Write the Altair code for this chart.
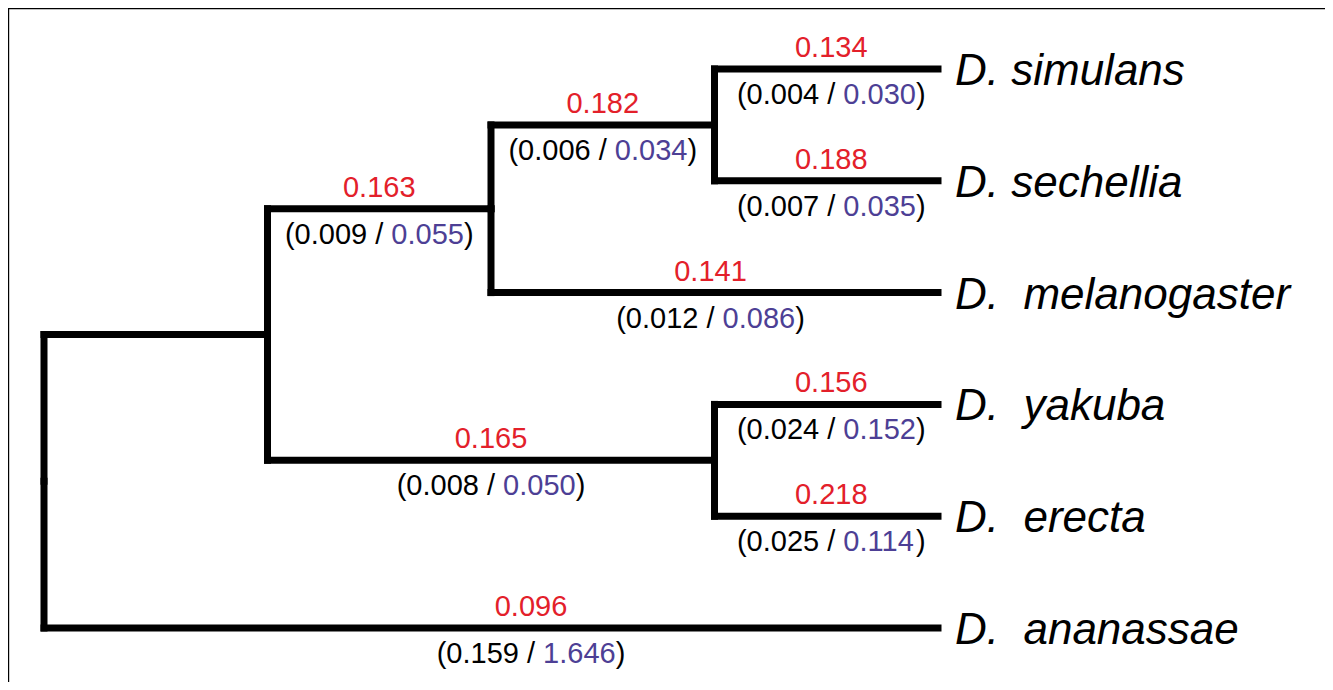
import altair as alt
import pandas as pd

# ---------------- data ----------------
# tree topology: each branch (child -> parent)
branch_child = ["simulans", "sechellia", "C", "melanogaster", "B",
                "yakuba", "erecta", "D", "A", "ananassae"]
branch_parent = ["C", "C", "B", "B", "A", "D", "D", "A", "root", "root"]
# branch values: dN/dS (red), dN (black), dS (purple)
omega = [0.134, 0.188, 0.182, 0.141, 0.163, 0.156, 0.218, 0.165, None, 0.096]
dn = [0.004, 0.007, 0.006, 0.012, 0.009, 0.024, 0.025, 0.008, None, 0.159]
ds = [0.030, 0.035, 0.034, 0.086, 0.055, 0.152, 0.114, 0.050, None, 1.646]
# leaves, top to bottom, with their display names
leaf_order = ["simulans", "sechellia", "melanogaster", "yakuba", "erecta", "ananassae"]
leaf_names = ["D. simulans", "D. sechellia", "D.\u00a0 melanogaster",
              "D.\u00a0 yakuba", "D.\u00a0 erecta", "D.\u00a0 ananassae"]

# ---------------- layout / style ----------------
W, H = 1317, 674
X_ROOT, X_STEP = 36, 223.5      # chart px of root, px per level
Y_TOP, Y_STEP = 61, 111.8       # chart px of first leaf, px per leaf
FONT = "Liberation Sans"
NUM_SIZE = 29
LEAF_SIZE = 44
RED = "#e3202a"
PURPLE = "#4d3f95"
LABEL_NUDGE_PX = {"simulans": 5, "sechellia": 5, "yakuba": 5, "erecta": 5,
                  "melanogaster": -4, "ananassae": 40}

# Arial/Liberation Sans advance widths (em)
ADV = {c: 0.556 for c in "0123456789"}
ADV.update({".": 0.278, " ": 0.278, "/": 0.278, "(": 0.333, ")": 0.333})


def text_w(s, size):
    return sum(ADV[c] for c in s) * size


children = {}
for c, p in zip(branch_child, branch_parent):
    children.setdefault(p, []).append(c)


def height(n):
    return 0 if n not in children else 1 + max(height(c) for c in children[n])


H_ROOT = height("root")
node_x = {}
node_y = {}
for i, l in enumerate(leaf_order):
    node_y[l] = i


def place(n):
    node_x[n] = H_ROOT - height(n)
    if n in children:
        for c in children[n]:
            place(c)
        node_y[n] = sum(node_y[c] for c in children[n]) / len(children[n])


place("root")

# segments
segs = []
for c, p in zip(branch_child, branch_parent):
    segs.append(dict(x=node_x[p], x2=node_x[c], y=node_y[c], y2=node_y[c]))
    segs.append(dict(x=node_x[p], x2=node_x[p], y=node_y[p], y2=node_y[c]))
seg_df = pd.DataFrame(segs)

# labels
red_rows, paren_rows = [], []
for c, p, om, a, b in zip(branch_child, branch_parent, omega, dn, ds):
    if om is None:
        continue
    mid = (node_x[p] + node_x[c]) / 2 + LABEL_NUDGE_PX.get(c, 0) / X_STEP
    y = node_y[c]
    red_rows.append(dict(x=mid, y=y, t=f"{om:.3f}"))
    left = f"({a:.3f} / "
    midt = f"{b:.3f}"
    total = text_w(left, NUM_SIZE) + text_w(midt, NUM_SIZE) + text_w(")", NUM_SIZE)
    x0 = mid - total / 2 / X_STEP
    x1 = x0 + text_w(left, NUM_SIZE) / X_STEP
    x2 = x1 + text_w(midt, NUM_SIZE) / X_STEP
    paren_rows.append(dict(x=x0, y=y, t=left.rstrip(), col="black"))
    paren_rows.append(dict(x=x1, y=y, t=midt, col=PURPLE))
    paren_rows.append(dict(x=x2, y=y, t=")", col="black"))
red_df = pd.DataFrame(red_rows)
paren_df = pd.DataFrame(paren_rows)
leaf_df = pd.DataFrame(dict(x=[node_x[l] for l in leaf_order],
                            y=[node_y[l] for l in leaf_order],
                            t=leaf_names))

xdom = [-X_ROOT / X_STEP, (W - X_ROOT) / X_STEP]
ydom = [-Y_TOP / Y_STEP, (H - Y_TOP) / Y_STEP]
xs = alt.Scale(domain=xdom, nice=False, zero=False)
ys = alt.Scale(domain=ydom, nice=False, zero=False, reverse=True)
X = lambda f="x": alt.X(f"{f}:Q", scale=xs, axis=None)
Y = lambda f="y": alt.Y(f"{f}:Q", scale=ys, axis=None)

tree = alt.Chart(seg_df).mark_rule(strokeWidth=7, color="black", strokeCap="square").encode(
    x=X("x"), x2="x2:Q", y=Y("y"), y2="y2:Q")

red = alt.Chart(red_df).mark_text(font=FONT, fontSize=NUM_SIZE, color=RED, align="center",
                                  baseline="alphabetic", dy=-12).encode(
    x=X(), y=Y(), text="t:N")

paren = alt.Chart(paren_df).mark_text(font=FONT, fontSize=NUM_SIZE, align="left",
                                      baseline="alphabetic", dy=35).encode(
    x=X(), y=Y(), text="t:N", color=alt.Color("col:N", scale=None))

leaves = alt.Chart(leaf_df).mark_text(font=FONT, fontSize=LEAF_SIZE, fontStyle="italic",
                                      color="black", align="left", baseline="alphabetic",
                                      dx=17, dy=16).encode(
    x=X(), y=Y(), text="t:N")

frame_top = alt.Chart(pd.DataFrame({"a": [0]})).mark_rule(color="black", strokeWidth=1.2).encode(
    x=alt.value(0), x2=alt.value(W), y=alt.value(0.6))
frame_left = alt.Chart(pd.DataFrame({"a": [0]})).mark_rule(color="black", strokeWidth=1.2).encode(
    x=alt.value(0.6), y=alt.value(0), y2=alt.value(H))

chart = alt.layer(frame_top, frame_left, tree, red, paren, leaves).properties(
    width=W, height=H, padding=0, autosize=alt.AutoSizeParams(type="none"),
    background="white"
).configure_view(stroke=None)

chart.save("out.html", embed_options={"renderer": "svg", "actions": False})
